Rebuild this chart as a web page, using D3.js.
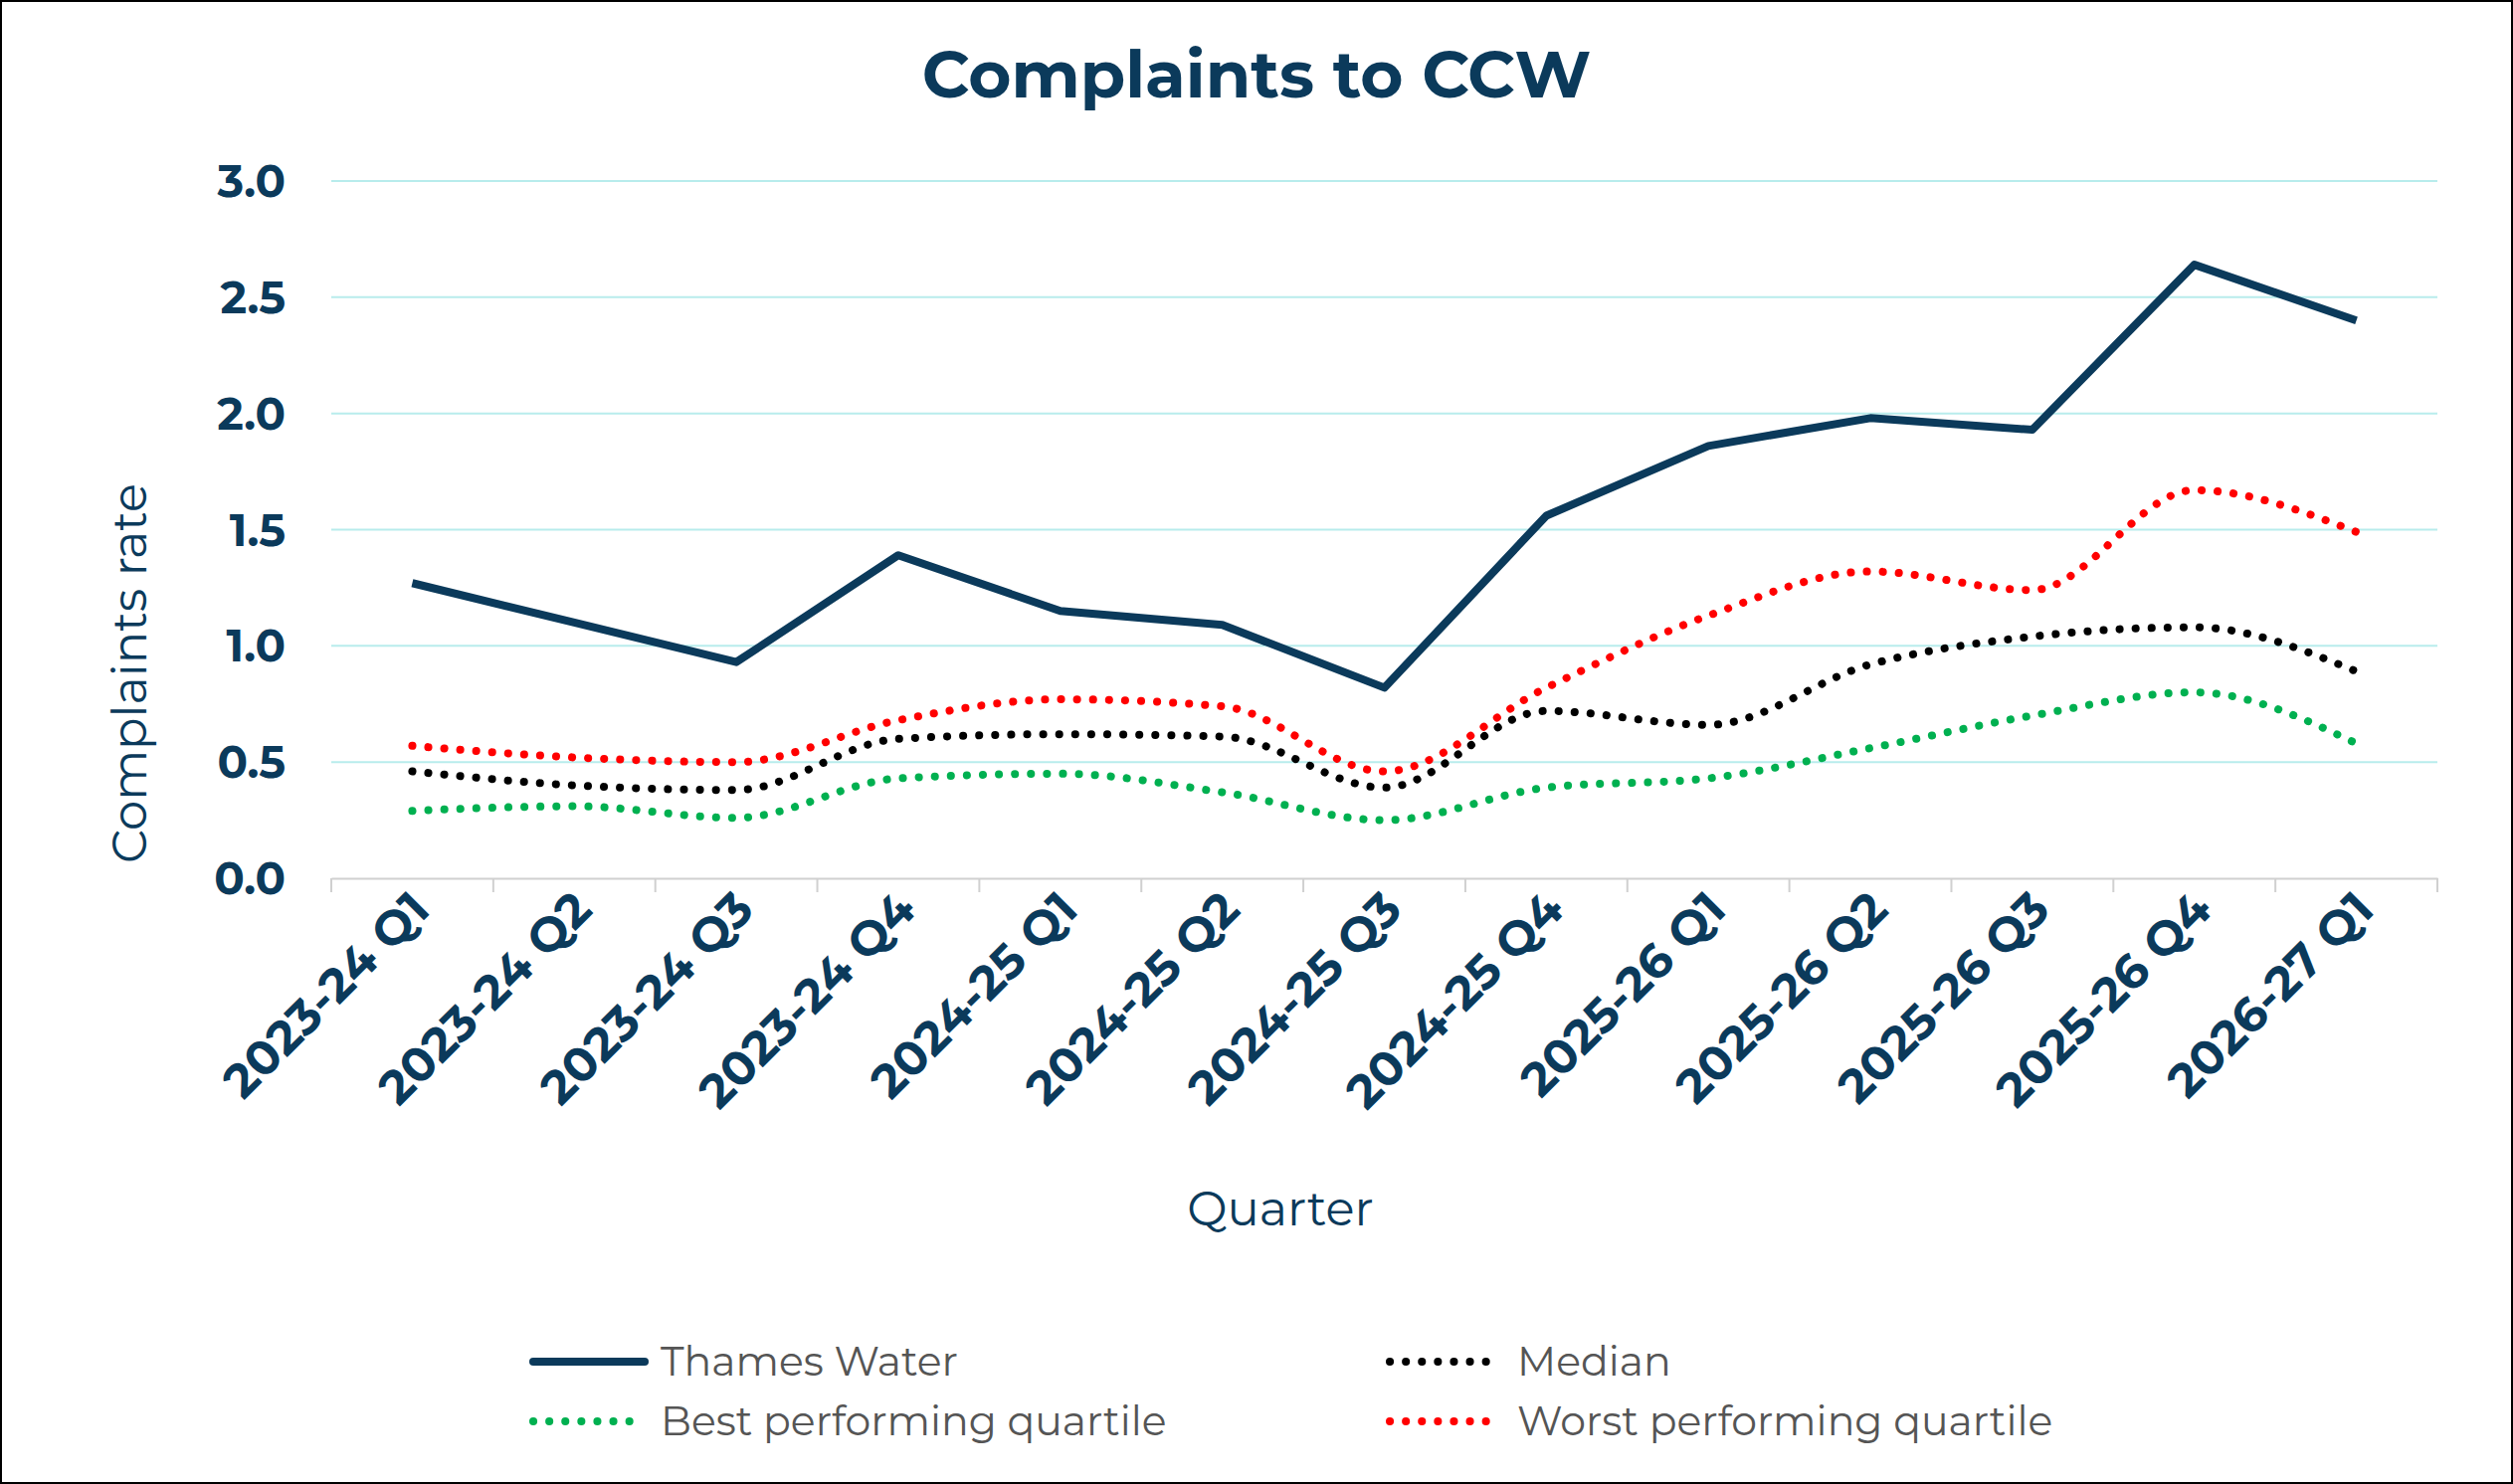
<!DOCTYPE html>
<html><head><meta charset="utf-8">
<script src="https://cdn.jsdelivr.net/npm/d3@7"></script>
<style>body{margin:0;background:#fff}svg{display:block}</style></head>
<body><svg id="c" width="2526" height="1492"></svg>
<script>
const categories=["2023-24 Q1","2023-24 Q2","2023-24 Q3","2023-24 Q4","2024-25 Q1","2024-25 Q2","2024-25 Q3","2024-25 Q4","2025-26 Q1","2025-26 Q2","2025-26 Q3","2025-26 Q4","2026-27 Q1"];
const thames=[1.27,1.10,0.93,1.39,1.15,1.09,0.82,1.56,1.86,1.98,1.93,2.64,2.40];
const median=[0.46,0.40,0.38,0.60,0.62,0.61,0.39,0.72,0.66,0.92,1.04,1.08,0.89];
const best=[0.29,0.31,0.26,0.43,0.45,0.37,0.25,0.39,0.43,0.56,0.70,0.80,0.58];
const worst=[0.57,0.52,0.50,0.68,0.77,0.74,0.46,0.82,1.13,1.32,1.24,1.67,1.49];
const yTicks=[0,0.5,1.0,1.5,2.0,2.5,3.0];
const navy="#0b3a5b", font="Montserrat, 'Open Sans', Lato, sans-serif";
const svg=d3.select("#c");
svg.append("rect").attr("x",1).attr("y",1).attr("width",2524).attr("height",1490).attr("fill","#fff").attr("stroke","#000").attr("stroke-width",2);
const L=333,R=2450,T=182,B=883;
const x=d3.scaleBand().domain(categories).range([L,R]);
const y=d3.scaleLinear().domain([0,3]).range([B,T]);
const cx=c=>x(c)+x.bandwidth()/2;
svg.append("text").attr("x",1263).attr("y",98).attr("text-anchor","middle").attr("font-family",font).attr("font-weight",700).attr("font-size",66).attr("fill",navy).text("Complaints to CCW");
svg.append("g").selectAll("line").data(yTicks.slice(1)).join("line").attr("x1",L).attr("x2",R).attr("y1",d=>y(d)).attr("y2",d=>y(d)).attr("stroke","#b8ecec").attr("stroke-width",2);
svg.append("g").selectAll("text").data(yTicks).join("text").attr("x",287).attr("y",d=>y(d)+16).attr("text-anchor","end").attr("font-family",font).attr("font-weight",700).attr("font-size",45).attr("fill",navy).text(d=>d.toFixed(1));
const ax=svg.append("g").attr("transform",`translate(0,${B})`).call(d3.axisBottom(x).tickSize(0).tickFormat(""));
ax.select(".domain").attr("stroke","#d0d0d0").attr("stroke-width",2);
svg.append("g").selectAll("line").data(d3.range(categories.length+1)).join("line").attr("x1",i=>L+i*x.step()).attr("x2",i=>L+i*x.step()).attr("y1",B).attr("y2",B+14).attr("stroke","#d0d0d0").attr("stroke-width",2);
svg.append("g").selectAll("text").data(categories).join("text").attr("transform",d=>`translate(${cx(d)+20},${B+34}) rotate(-45)`).attr("text-anchor","end").attr("font-family",font).attr("font-weight",700).attr("font-size",48).attr("fill",navy).text(d=>d);
svg.append("text").attr("transform",`translate(147,677) rotate(-90)`).attr("text-anchor","middle").attr("font-family",font).attr("font-size",48).attr("fill",navy).text("Complaints rate");
svg.append("text").attr("x",1287).attr("y",1232).attr("text-anchor","middle").attr("font-family",font).attr("font-size",48).attr("fill",navy).text("Quarter");
const line=(curve)=>d3.line().x((d,i)=>cx(categories[i])).y(d=>y(d)).curve(curve);
const dotted=(data,col)=>svg.append("path").attr("d",line(d3.curveMonotoneX)(data)).attr("fill","none").attr("stroke",col).attr("stroke-width",8).attr("stroke-linecap","round").attr("stroke-dasharray","0.1 16");
dotted(best,"#00b050");dotted(median,"#000");dotted(worst,"#ff0000");
svg.append("path").attr("d",line(d3.curveLinear)(thames)).attr("fill","none").attr("stroke",navy).attr("stroke-width",8).attr("stroke-linejoin","round");
const leg=[["Thames Water",navy,false,532,1369],["Median","#000",true,1393,1369],["Best performing quartile","#00b050",true,532,1429],["Worst performing quartile","#ff0000",true,1393,1429]];
leg.forEach(([t,c,d,lx,ly])=>{
 const l=svg.append("line").attr("x1",lx+4).attr("x2",lx+116).attr("y1",ly).attr("y2",ly).attr("stroke",c).attr("stroke-width",8).attr("stroke-linecap","round");
 if(d) l.attr("stroke-dasharray","0.1 16");
 svg.append("text").attr("x",lx+132).attr("y",ly+14).attr("font-family",font).attr("font-size",41).attr("fill","#555").text(t);
});
</script></body></html>
